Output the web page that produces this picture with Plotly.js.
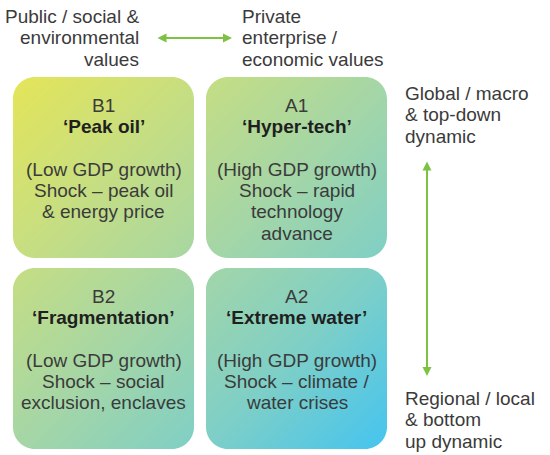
<!DOCTYPE html>
<html>
<head>
<meta charset="utf-8">
<script src="https://cdn.plot.ly/plotly-3.0.1.min.js"></script>
<style>html,body{margin:0;padding:0;background:#fff}</style>
</head>
<body>
<div id="chart" style="width:550px;height:455px"></div>
<script>
// scenario quadrants, in reading order: B1, A1 / B2, A2
var codes = ['B1', 'A1', 'B2', 'A2'];
var names = ['‘Peak oil’', '‘Hyper-tech’', '‘Fragmentation’', '‘Extreme water’'];
var growth = ['(Low GDP growth)', '(High GDP growth)', '(Low GDP growth)', '(High GDP growth)'];
var shocks = [
    ['Shock – peak oil', '& energy price'],
    ['Shock – rapid', 'technology', 'advance'],
    ['Shock – social', 'exclusion, enclaves'],
    ['Shock – climate /', 'water crises']
];

// axis end labels
var leftLabel = ['Public / social &', 'environmental', 'values'];
var rightLabel = ['Private', 'enterprise /', 'economic values'];
var topLabel = ['Global / macro', '& top-down', 'dynamic'];
var bottomLabel = ['Regional / local', '& bottom', 'up dynamic'];

// layout in pixels
var colX = [[13, 194], [206, 387]];
var rowY = [[77, 258], [268, 449]];
var rad = 22;
var lh = 21.3;
var green = '#7dc242';
var font = 'Liberation Sans';

var annotations = [];
var shapes = [];

function textLine(x, base, txt, anchor, bold) {
    annotations.push({
        x: x, y: base - 6.6, xref: 'x', yref: 'y',
        text: bold ? '<b>' + txt + '</b>' : txt,
        showarrow: false, xanchor: anchor, yanchor: 'middle', borderpad: 0,
        font: {family: font, size: 19, color: bold ? '#1f1f1f' : '#3b3b3b'}
    });
}

// text inside the boxes
codes.forEach(function(c, i) {
    var cx = (colX[i % 2][0] + colX[i % 2][1]) / 2;
    var top = rowY[Math.floor(i / 2)][0] + 35;
    var lines = [c, names[i], '', growth[i]].concat(shocks[i]);
    lines.forEach(function(t, j) {
        if (t) textLine(cx, top + j * lh, t, 'center', j === 1);
    });
});

leftLabel.forEach(function(t, j) { textLine(140, 23 + j * lh, t, 'right'); });
rightLabel.forEach(function(t, j) { textLine(241, 23 + j * lh, t, 'left'); });
topLabel.forEach(function(t, j) { textLine(404, 100 + j * lh, t, 'left'); });
bottomLabel.forEach(function(t, j) { textLine(404, 405 + j * lh, t, 'left'); });

// double headed arrows
function arrow(x0, y0, x1, y1) {
    annotations.push({
        x: x1, y: y1, ax: x0, ay: y0, xref: 'x', yref: 'y', axref: 'x', ayref: 'y',
        text: '', showarrow: true, arrowside: 'end+start',
        arrowhead: 2, startarrowhead: 2, arrowsize: 0.9, startarrowsize: 0.9,
        arrowwidth: 2, arrowcolor: green
    });
}
arrow(156, 38, 232, 38);
arrow(427, 160, 427, 376);

// white masks: gaps between the boxes and rounded corners
shapes.push({type: 'rect', xref: 'x', yref: 'y', x0: colX[0][1], x1: colX[1][0], y0: 60, y1: 455,
    fillcolor: '#fff', line: {width: 0}, layer: 'above'});
shapes.push({type: 'rect', xref: 'x', yref: 'y', x0: 0, x1: 400, y0: rowY[0][1], y1: rowY[1][0],
    fillcolor: '#fff', line: {width: 0}, layer: 'above'});

function corner(cx, cy, sx, sy) {
    var k = rad * 0.4477, p = 2;
    var d = 'M' + (cx - sx * p) + ',' + (cy - sy * p) +
        ' L' + (cx + sx * rad) + ',' + (cy - sy * p) +
        ' L' + (cx + sx * rad) + ',' + cy +
        ' C' + (cx + sx * k) + ',' + cy + ' ' + cx + ',' + (cy + sy * k) + ' ' + cx + ',' + (cy + sy * rad) +
        ' L' + (cx - sx * p) + ',' + (cy + sy * rad) + ' Z';
    shapes.push({type: 'path', xref: 'x', yref: 'y', path: d,
        fillcolor: '#fff', line: {width: 0}, layer: 'above'});
}
colX.forEach(function(cx) {
    rowY.forEach(function(ry) {
        corner(cx[0], ry[0], 1, 1);
        corner(cx[1], ry[0], -1, 1);
        corner(cx[0], ry[1], 1, -1);
        corner(cx[1], ry[1], -1, -1);
    });
});

// one diagonal gradient behind all four boxes
var trace = {
    type: 'heatmap',
    x: [0, 1], y: [0, 1],
    z: [[0, 1], [1, 2]],
    zsmooth: 'best',
    xaxis: 'x2', yaxis: 'y2',
    showscale: false, hoverinfo: 'skip',
    colorscale: [[0, '#e4e558'], [0.25, '#c6de82'], [0.5, '#a5d6a6'], [0.75, '#7ecfc7'], [1, '#44c4f0']]
};

var layout = {
    width: 550, height: 455,
    margin: {l: 0, r: 0, t: 0, b: 0},
    paper_bgcolor: '#fff', plot_bgcolor: 'rgba(0,0,0,0)',
    showlegend: false,
    xaxis: {range: [0, 550], visible: false, fixedrange: true},
    yaxis: {range: [455, 0], visible: false, fixedrange: true},
    xaxis2: {domain: [colX[0][0] / 550, colX[1][1] / 550], range: [0, 1], anchor: 'y2', visible: false},
    yaxis2: {domain: [1 - rowY[1][1] / 455, 1 - rowY[0][0] / 455], range: [1, 0], anchor: 'x2', visible: false},
    annotations: annotations,
    shapes: shapes
};

Plotly.newPlot('chart', [trace], layout, {staticPlot: true, displayModeBar: false});
</script>
</body>
</html>
